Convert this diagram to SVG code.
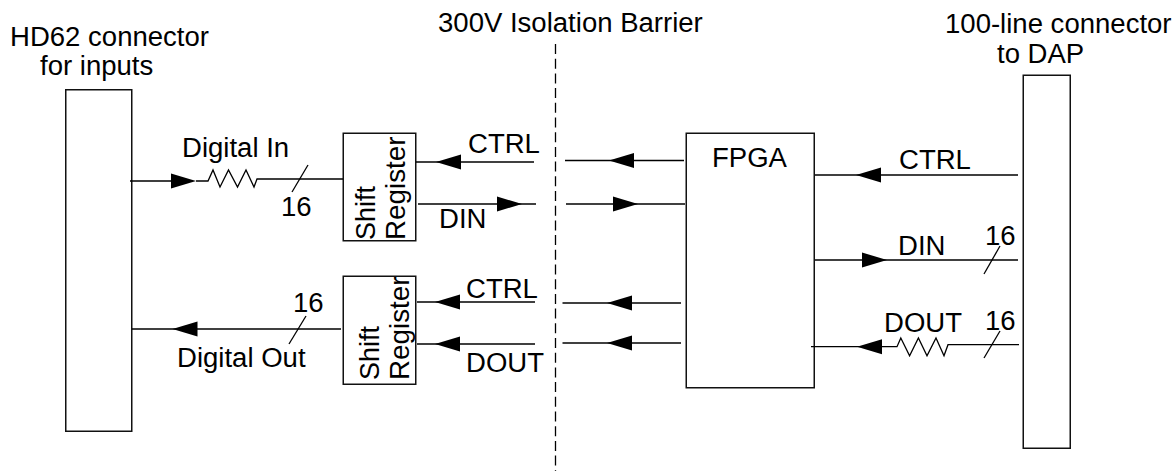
<svg xmlns="http://www.w3.org/2000/svg" width="1174" height="471" viewBox="0 0 1174 471">
<style>
.b{fill:#fff;stroke:#111;stroke-width:1.5}
.l{fill:none;stroke:#000;stroke-width:1.3}
.t{font-family:"Liberation Sans",Arial,sans-serif;font-size:27px;fill:#000}
</style>
<defs>
<polygon id="al" points="0,0 25,-7.5 25,7.5" fill="#000"/>
<polygon id="ar" points="0,0 -25,-7.5 -25,7.5" fill="#000"/>
</defs>
<rect width="1174" height="471" fill="#fff"/>
<g id="barrier">
<line class="l" x1="555.5" y1="44" x2="555.5" y2="471" stroke-dasharray="10 4.7"/>
<text class="t" transform="translate(438,32) scale(1.02,1)">300V Isolation Barrier</text>
</g>
<g id="hd62">
<rect class="b" x="65.75" y="89.75" width="66" height="341.5"/>
<text class="t" transform="translate(10,46) scale(1.02,1)">HD62 connector</text>
<text class="t" transform="translate(40,75) scale(1.02,1)">for inputs</text>
</g>
<g id="sr1">
<rect class="b" x="343.25" y="133.25" width="72.5" height="107.5"/>
<text class="t" transform="translate(375,240) rotate(-90)">Shift</text>
<text class="t" transform="translate(405,240) rotate(-90) scale(1.03,1)">Register</text>
</g>
<g id="sr2">
<rect class="b" x="343.25" y="276.25" width="72.5" height="108"/>
<text class="t" transform="translate(379,380) rotate(-90)">Shift</text>
<text class="t" transform="translate(409,380) rotate(-90) scale(1.03,1)">Register</text>
</g>
<g id="fpga">
<rect class="b" x="686.25" y="133.25" width="128" height="254.5"/>
<text class="t" transform="translate(712,167) scale(1.02,1)">FPGA</text>
</g>
<g id="dap">
<rect class="b" x="1023.25" y="75.25" width="47" height="373"/>
<text class="t" transform="translate(945,33) scale(1.02,1)">100-line connector</text>
<text class="t" transform="translate(997,63) scale(1.02,1)">to DAP</text>
</g>
<g id="connectors">
<path class="l" d="M130 181H171M196 181H208L213 170L220 187L228.500 170L237.500 187L246 170L254 187L257 179H343"/>
<use href="#ar" x="196" y="181"/>
<path class="l" d="M308 165L292 192"/>
<path class="l" d="M416 162H534"/><use href="#al" x="436" y="162"/>
<path class="l" d="M418 204H536"/><use href="#ar" x="522" y="204"/>
<path class="l" d="M132 329H341"/><use href="#al" x="172.500" y="329"/>
<path class="l" d="M306 316L289 344"/>
<path class="l" d="M417 302H535"/><use href="#al" x="435" y="302"/>
<path class="l" d="M417 344H535"/><use href="#al" x="435" y="344"/>
<path class="l" d="M565 160.500H684"/><use href="#al" x="609" y="160.500"/>
<path class="l" d="M566 204H685"/><use href="#ar" x="638" y="204"/>
<path class="l" d="M562.500 303H681"/><use href="#al" x="607" y="303"/>
<path class="l" d="M562.500 343H681"/><use href="#al" x="607" y="343"/>
<path class="l" d="M815 175H1018"/><use href="#al" x="856" y="175"/>
<path class="l" d="M815 260H1018"/><use href="#ar" x="887" y="260"/>
<path class="l" d="M1000 246L984 274"/>
<path class="l" d="M811 346.700H897L900.800 338L909.600 355.700L918.400 338L927 355.700L936 338L944 355.700L948 344.700H1019"/>
<use href="#al" x="857" y="346.700"/>
<path class="l" d="M1000 331L984 358"/>
</g>
<g id="labels">
<text class="t" transform="translate(182,157) scale(1.02,1)">Digital In</text>
<text class="t" transform="translate(281,216) scale(1.02,1)">16</text>
<text class="t" transform="translate(468,153) scale(1.02,1)">CTRL</text>
<text class="t" transform="translate(439,228) scale(1.02,1)">DIN</text>
<text class="t" transform="translate(293,312) scale(1.02,1)">16</text>
<text class="t" transform="translate(177,367) scale(1.02,1)">Digital Out</text>
<text class="t" transform="translate(466,298) scale(1.02,1)">CTRL</text>
<text class="t" transform="translate(466,372) scale(1.02,1)">DOUT</text>
<text class="t" transform="translate(899,169) scale(1.02,1)">CTRL</text>
<text class="t" transform="translate(898,255) scale(1.02,1)">DIN</text>
<text class="t" transform="translate(985,245) scale(1.02,1)">16</text>
<text class="t" transform="translate(884,332) scale(1.02,1)">DOUT</text>
<text class="t" transform="translate(985,330) scale(1.02,1)">16</text>
</g>
</svg>
